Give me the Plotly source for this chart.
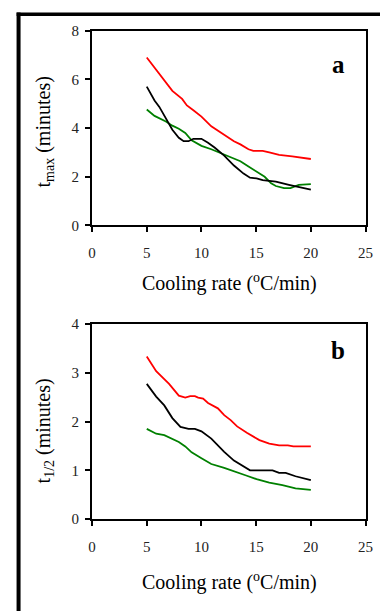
import plotly.graph_objects as go

W, H = 380, 611

# Panel a: t_max (minutes) vs cooling rate
a_red_x = [5.0, 7.34, 8.23, 8.67, 9.26, 10.0, 10.9, 12.08, 12.97, 13.56, 14.3, 14.74, 15.6, 16.2, 17.1, 18.3, 20.0]
a_red_y = [6.9, 5.53, 5.2, 4.93, 4.73, 4.47, 4.07, 3.73, 3.46, 3.33, 3.13, 3.06, 3.06, 3.0, 2.9, 2.84, 2.73]

a_black_x = [5.0, 5.71, 6.15, 6.75, 7.34, 7.93, 8.37, 8.82, 9.26, 10.0, 10.6, 11.2, 12.08, 12.97, 13.85, 14.44, 15.04, 15.6, 16.8, 18.0, 19.2, 20.0]
a_black_y = [5.7, 5.13, 4.87, 4.4, 3.93, 3.6, 3.46, 3.46, 3.56, 3.56, 3.4, 3.2, 2.87, 2.46, 2.13, 1.96, 1.93, 1.86, 1.8, 1.67, 1.56, 1.47]

a_green_x = [5.0, 5.71, 6.75, 7.34, 7.93, 8.52, 9.1, 10.0, 10.9, 11.78, 12.67, 13.56, 14.3, 15.04, 15.78, 16.37, 16.8, 17.55, 18.14, 18.9, 19.5, 20.0]
a_green_y = [4.76, 4.5, 4.27, 4.1, 3.97, 3.8, 3.5, 3.27, 3.13, 2.96, 2.8, 2.64, 2.42, 2.2, 2.0, 1.73, 1.62, 1.53, 1.53, 1.67, 1.7, 1.7]

# Panel b: t_1/2 (minutes) vs cooling rate
b_red_x = [5.0, 5.86, 7.04, 7.93, 8.52, 8.97, 9.4, 9.7, 10.15, 10.6, 11.5, 12.08, 12.67, 13.26, 14.15, 15.3, 16.2, 17.1, 17.9, 18.4, 20.0]
b_red_y = [3.33, 3.03, 2.77, 2.53, 2.49, 2.52, 2.52, 2.49, 2.47, 2.38, 2.27, 2.13, 2.03, 1.9, 1.77, 1.62, 1.55, 1.51, 1.51, 1.49, 1.49]

b_black_x = [5.0, 5.86, 6.6, 7.34, 8.08, 8.82, 9.4, 10.0, 10.9, 12.08, 12.97, 13.85, 14.44, 16.5, 17.1, 17.7, 18.6, 20.0]
b_black_y = [2.77, 2.51, 2.33, 2.07, 1.89, 1.85, 1.85, 1.8, 1.65, 1.38, 1.2, 1.07, 1.0, 1.0, 0.95, 0.95, 0.88, 0.8]

b_green_x = [5.0, 5.86, 6.6, 7.34, 7.93, 8.52, 9.1, 10.0, 10.9, 12.08, 13.26, 14.15, 15.04, 16.2, 17.4, 18.6, 20.0]
b_green_y = [1.85, 1.75, 1.72, 1.65, 1.58, 1.49, 1.37, 1.25, 1.13, 1.05, 0.95, 0.89, 0.82, 0.75, 0.7, 0.63, 0.6]

x_ticks = [0, 5, 10, 15, 20, 25]
a_y_ticks = [0, 2, 4, 6, 8]
b_y_ticks = [0, 1, 2, 3, 4]

RED, BLACK, GREEN = "#ff0000", "#000000", "#008000"
FONT = "Liberation Serif"

def px_x(p):
    return p / W

def px_y(p):
    return 1 - p / H

fig = go.Figure()
for xs, ys, c, ax in [
    (a_red_x, a_red_y, RED, "1"), (a_green_x, a_green_y, GREEN, "1"), (a_black_x, a_black_y, BLACK, "1"),
    (b_red_x, b_red_y, RED, "2"), (b_green_x, b_green_y, GREEN, "2"), (b_black_x, b_black_y, BLACK, "2"),
]:
    fig.add_trace(go.Scatter(x=xs, y=ys, mode="lines", line=dict(color=c, width=1.8),
                             xaxis="x" + ("" if ax == "1" else ax), yaxis="y" + ("" if ax == "1" else ax),
                             showlegend=False, hoverinfo="skip"))

xdom = [px_x(90.7), px_x(372.3)]
common_x = dict(range=[0, 25], tickvals=x_ticks, showline=True, linecolor="black", linewidth=2,
                mirror=True, ticks="outside", ticklen=5, tickwidth=2, tickcolor="black",
                showgrid=False, zeroline=False, domain=xdom, ticklabelstandoff=8,
                tickfont=dict(family=FONT, size=15, color="#222"))
common_y = dict(showline=True, linecolor="black", linewidth=2, mirror=True, ticks="outside",
                ticklen=5, tickwidth=2, tickcolor="black", showgrid=False, zeroline=False,
                ticklabelstandoff=3,
                tickfont=dict(family=FONT, size=15, color="#222"))

fig.update_layout(
    width=W, height=H, margin=dict(l=0, r=0, t=0, b=0),
    paper_bgcolor="white", plot_bgcolor="white",
    xaxis=dict(**common_x, anchor="y"),
    yaxis=dict(**common_y, range=[0, 8], tickvals=a_y_ticks, domain=[px_y(223.3), px_y(23.3)], anchor="x"),
    xaxis2=dict(**common_x, anchor="y2"),
    yaxis2=dict(**common_y, range=[0, 4], tickvals=b_y_ticks, domain=[px_y(525), px_y(324.3)], anchor="x2"),
)

anns = [
    dict(text="Cooling rate (<sup>o</sup>C/min)", x=px_x(232), y=px_y(282), size=20, angle=0),
    dict(text="Cooling rate (<sup>o</sup>C/min)", x=px_x(232), y=px_y(589), size=20, angle=0),
    dict(text="t<sub>max</sub> (minutes)", x=px_x(42), y=px_y(127), size=20, angle=-90),
    dict(text="t<sub>1/2</sub> (minutes)", x=px_x(42), y=px_y(434), size=20, angle=-90),
    dict(text="<b>a</b>", x=px_x(344), y=px_y(58), size=25, angle=0),
    dict(text="<b>b</b>", x=px_x(344), y=px_y(352), size=25, angle=0),
]
for a in anns:
    fig.add_annotation(text=a["text"], x=a["x"], y=a["y"], xref="paper", yref="paper",
                       xanchor="center", yanchor="middle", showarrow=False, textangle=a["angle"],
                       font=dict(family=FONT, size=a["size"], color="black"))

# outer frame (left and top edges visible)
fig.add_shape(type="line", xref="paper", yref="paper", x0=px_x(15), x1=px_x(15), y0=-0.05, y1=px_y(4.7),
              line=dict(color="black", width=4))
fig.add_shape(type="line", xref="paper", yref="paper", x0=px_x(13), x1=1.05, y0=px_y(6.4), y1=px_y(6.4),
              line=dict(color="black", width=3.5))

fig.write_html("out.html")
